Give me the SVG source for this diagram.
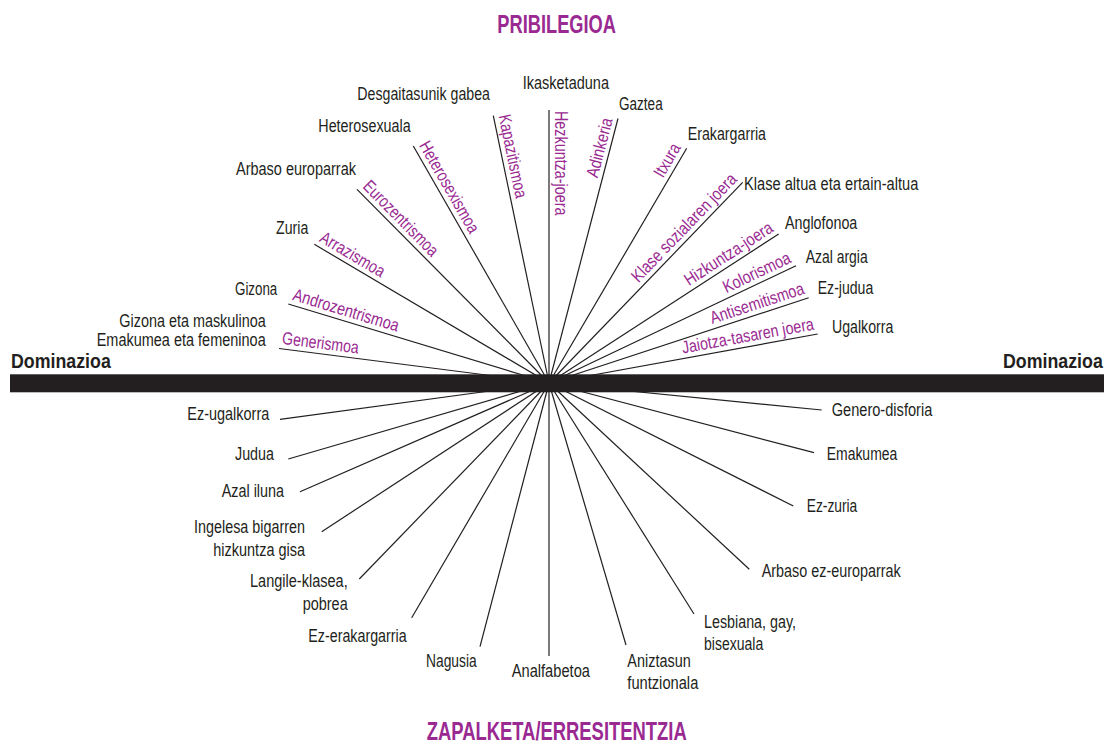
<svg xmlns="http://www.w3.org/2000/svg" width="1107" height="743" viewBox="0 0 1107 743">
<style>
.lbl{font-family:"Liberation Sans",Arial,sans-serif;font-size:17.5px;fill:#231f20}
.ism{font-family:"Liberation Sans",Arial,sans-serif;font-size:17.5px;fill:#9a2a92}
.dom{font-family:"Liberation Sans",Arial,sans-serif;font-size:17.8px;font-weight:bold;fill:#231f20}
.ttl{font-family:"Liberation Sans",Arial,sans-serif;font-size:25px;font-weight:bold;fill:#9a2a92}
.ray{stroke:#231f20;stroke-width:1.2;fill:none}
</style>
<rect width="1107" height="743" fill="#ffffff"/>
<g id="titles">
<text id="pribilegioa" class="ttl" x="497.3" y="33.3" textLength="118.7" lengthAdjust="spacingAndGlyphs">PRIBILEGIOA</text>
<text id="zapalketa" class="ttl" x="426.7" y="740" textLength="260" lengthAdjust="spacingAndGlyphs">ZAPALKETA/ERRESITENTZIA</text>
</g>
<g id="connectors">
<line class="ray" x1="549" y1="383" x2="279" y2="348.5"/>
<line class="ray" x1="549" y1="383" x2="288.3" y2="304"/>
<line class="ray" x1="549" y1="383" x2="314.3" y2="244.3"/>
<line class="ray" x1="549" y1="383" x2="357" y2="189.3"/>
<line class="ray" x1="549" y1="383" x2="413.3" y2="146"/>
<line class="ray" x1="549" y1="383" x2="493.3" y2="115.7"/>
<line class="ray" x1="549" y1="383" x2="549" y2="110"/>
<line class="ray" x1="549" y1="383" x2="618" y2="118.5"/>
<line class="ray" x1="549" y1="383" x2="686.7" y2="148.3"/>
<line class="ray" x1="549" y1="383" x2="742.7" y2="182.3"/>
<line class="ray" x1="549" y1="383" x2="778.7" y2="234"/>
<line class="ray" x1="549" y1="383" x2="796" y2="265.7"/>
<line class="ray" x1="549" y1="383" x2="808.7" y2="297.7"/>
<line class="ray" x1="549" y1="383" x2="817.7" y2="334"/>
<line class="ray" x1="549" y1="383" x2="280" y2="419.3"/>
<line class="ray" x1="549" y1="383" x2="288.3" y2="459"/>
<line class="ray" x1="549" y1="383" x2="300" y2="491.7"/>
<line class="ray" x1="549" y1="383" x2="321.7" y2="531.7"/>
<line class="ray" x1="549" y1="383" x2="359.3" y2="579"/>
<line class="ray" x1="549" y1="383" x2="411.7" y2="617.7"/>
<line class="ray" x1="549" y1="383" x2="480" y2="646.7"/>
<line class="ray" x1="549" y1="383" x2="549" y2="656"/>
<line class="ray" x1="549" y1="383" x2="626" y2="645"/>
<line class="ray" x1="549" y1="383" x2="694" y2="614"/>
<line class="ray" x1="549" y1="383" x2="749.3" y2="569.3"/>
<line class="ray" x1="549" y1="383" x2="793.3" y2="506"/>
<line class="ray" x1="549" y1="383" x2="814" y2="452.7"/>
<line class="ray" x1="549" y1="383" x2="821.7" y2="410"/>
</g>
<g id="axis">
<rect x="10" y="374.3" width="1094" height="18" fill="#231f20"/>
<text id="dominazioa-left" class="dom" transform="translate(11,368.3) scale(1,1.18)" x="0" y="0">Dominazioa</text>
<text id="dominazioa-right" class="dom" transform="translate(1003,367.7) scale(1,1.18)" x="0" y="0">Dominazioa</text>
</g>
<g id="isms">
<g id="generismoa" transform="translate(279,348.5) rotate(7.28)"><text class="ism" x="2" y="-5" textLength="77" lengthAdjust="spacingAndGlyphs">Generismoa</text></g>
<g id="androzentrismoa" transform="translate(288.3,304) rotate(16.86)"><text class="ism" x="2" y="-5" textLength="110" lengthAdjust="spacingAndGlyphs">Androzentrismoa</text></g>
<g id="arrazismoa" transform="translate(314.3,244.3) rotate(30.58)"><text class="ism" x="2" y="-5" textLength="72.3" lengthAdjust="spacingAndGlyphs">Arrazismoa</text></g>
<g id="eurozentrismoa" transform="translate(357,189.3) rotate(45.25)"><text class="ism" x="2" y="-5" textLength="99" lengthAdjust="spacingAndGlyphs">Eurozentrismoa</text></g>
<g id="heterosexismoa" transform="translate(413.3,146) rotate(60.2)"><text class="ism" x="2" y="-5" textLength="103" lengthAdjust="spacingAndGlyphs">Heterosexismoa</text></g>
<g id="kapazitismoa" transform="translate(493.3,115.7) rotate(78.23)"><text class="ism" x="1" y="-5" textLength="85" lengthAdjust="spacingAndGlyphs">Kapazitismoa</text></g>
<g id="hezkuntza-joera" transform="translate(549,110) rotate(90)"><text class="ism" x="1" y="-6" textLength="104.5" lengthAdjust="spacingAndGlyphs">Hezkuntza-joera</text></g>
<g id="adinkeria" transform="translate(549,383) rotate(-75.3)"><text class="ism" x="271" y="-5" text-anchor="end" textLength="61" lengthAdjust="spacingAndGlyphs">Adinkeria</text></g>
<g id="itxura" transform="translate(549,383) rotate(-59.6)"><text class="ism" x="270" y="-5" text-anchor="end" textLength="36" lengthAdjust="spacingAndGlyphs">Itxura</text></g>
<g id="klase-sozialaren-joera" transform="translate(549,383) rotate(-46)"><text class="ism" x="277" y="-5" text-anchor="end" textLength="143" lengthAdjust="spacingAndGlyphs">Klase sozialaren joera</text></g>
<g id="hizkuntza-joera" transform="translate(549,383) rotate(-32.97)"><text class="ism" x="272" y="-5" text-anchor="end" textLength="102" lengthAdjust="spacingAndGlyphs">Hizkuntza-joera</text></g>
<g id="kolorismoa" transform="translate(549,383) rotate(-25.4)"><text class="ism" x="271.5" y="-5" text-anchor="end" textLength="73" lengthAdjust="spacingAndGlyphs">Kolorismoa</text></g>
<g id="antisemitismoa" transform="translate(549,383) rotate(-18.18)"><text class="ism" x="271.5" y="-5" text-anchor="end" textLength="98" lengthAdjust="spacingAndGlyphs">Antisemitismoa</text></g>
<g id="jaiotza-tasaren-joera" transform="translate(549,383) rotate(-10.33)"><text class="ism" x="271" y="-5" text-anchor="end" textLength="134" lengthAdjust="spacingAndGlyphs">Jaiotza-tasaren joera</text></g>
</g>
<g id="privileged">
<g id="desgaitasunik-gabea"><text class="lbl" x="357.3" y="99.5" textLength="132.7" lengthAdjust="spacingAndGlyphs">Desgaitasunik gabea</text></g>
<g id="ikasketaduna"><text class="lbl" x="522.7" y="89" textLength="86.3" lengthAdjust="spacingAndGlyphs">Ikasketaduna</text></g>
<g id="heterosexuala"><text class="lbl" x="318.3" y="131.5" textLength="92.4" lengthAdjust="spacingAndGlyphs">Heterosexuala</text></g>
<g id="arbaso-europarrak"><text class="lbl" x="236" y="175" textLength="120" lengthAdjust="spacingAndGlyphs">Arbaso europarrak</text></g>
<g id="zuria"><text class="lbl" x="276" y="234" textLength="32.3" lengthAdjust="spacingAndGlyphs">Zuria</text></g>
<g id="gizona"><text class="lbl" x="235" y="295" textLength="42.3" lengthAdjust="spacingAndGlyphs">Gizona</text></g>
<g id="gizona-eta-maskulinoa"><text class="lbl" x="119.3" y="327.3" textLength="146.4" lengthAdjust="spacingAndGlyphs">Gizona eta maskulinoa</text><text class="lbl" x="96.7" y="346" textLength="169" lengthAdjust="spacingAndGlyphs">Emakumea eta femeninoa</text></g>
<g id="gaztea"><text class="lbl" x="619" y="109.5" textLength="43.7" lengthAdjust="spacingAndGlyphs">Gaztea</text></g>
<g id="erakargarria"><text class="lbl" x="687.7" y="140" textLength="78.3" lengthAdjust="spacingAndGlyphs">Erakargarria</text></g>
<g id="klase-altua"><text class="lbl" x="744" y="190" textLength="174.3" lengthAdjust="spacingAndGlyphs">Klase altua eta ertain-altua</text></g>
<g id="anglofonoa"><text class="lbl" x="785" y="229.3" textLength="72.3" lengthAdjust="spacingAndGlyphs">Anglofonoa</text></g>
<g id="azal-argia"><text class="lbl" x="805.7" y="263.3" textLength="62" lengthAdjust="spacingAndGlyphs">Azal argia</text></g>
<g id="ez-judua"><text class="lbl" x="817.7" y="294.3" textLength="55.6" lengthAdjust="spacingAndGlyphs">Ez-judua</text></g>
<g id="ugalkorra"><text class="lbl" x="832" y="333.3" textLength="61.3" lengthAdjust="spacingAndGlyphs">Ugalkorra</text></g>
</g>
<g id="oppressed">
<g id="ez-ugalkorra"><text class="lbl" x="187.3" y="420" textLength="82" lengthAdjust="spacingAndGlyphs">Ez-ugalkorra</text></g>
<g id="judua"><text class="lbl" x="235" y="460" textLength="39" lengthAdjust="spacingAndGlyphs">Judua</text></g>
<g id="azal-iluna"><text class="lbl" x="221.7" y="497.3" textLength="62.3" lengthAdjust="spacingAndGlyphs">Azal iluna</text></g>
<g id="ingelesa"><text class="lbl" x="194" y="533.3" textLength="111" lengthAdjust="spacingAndGlyphs">Ingelesa bigarren</text><text class="lbl" x="213.3" y="556" textLength="91.7" lengthAdjust="spacingAndGlyphs">hizkuntza gisa</text></g>
<g id="langile-klasea"><text class="lbl" x="250" y="587.3" textLength="97.7" lengthAdjust="spacingAndGlyphs">Langile-klasea,</text><text class="lbl" x="302.7" y="610" textLength="45" lengthAdjust="spacingAndGlyphs">pobrea</text></g>
<g id="ez-erakargarria"><text class="lbl" x="308.3" y="641.7" textLength="98.4" lengthAdjust="spacingAndGlyphs">Ez-erakargarria</text></g>
<g id="nagusia"><text class="lbl" x="426" y="666.7" textLength="50.7" lengthAdjust="spacingAndGlyphs">Nagusia</text></g>
<g id="analfabetoa"><text class="lbl" x="511.7" y="676.7" textLength="78.3" lengthAdjust="spacingAndGlyphs">Analfabetoa</text></g>
<g id="aniztasun-funtzionala"><text class="lbl" x="627.3" y="667.3" textLength="63.4" lengthAdjust="spacingAndGlyphs">Aniztasun</text><text class="lbl" x="627.3" y="689.3" textLength="71" lengthAdjust="spacingAndGlyphs">funtzionala</text></g>
<g id="lesbiana-gay-bisexuala"><text class="lbl" x="704" y="628.3" textLength="92" lengthAdjust="spacingAndGlyphs">Lesbiana, gay,</text><text class="lbl" x="704" y="650" textLength="59.3" lengthAdjust="spacingAndGlyphs">bisexuala</text></g>
<g id="arbaso-ez-europarrak"><text class="lbl" x="761.7" y="577.3" textLength="139" lengthAdjust="spacingAndGlyphs">Arbaso ez-europarrak</text></g>
<g id="ez-zuria"><text class="lbl" x="806.7" y="511.7" textLength="50.6" lengthAdjust="spacingAndGlyphs">Ez-zuria</text></g>
<g id="emakumea"><text class="lbl" x="826.7" y="460" textLength="70.6" lengthAdjust="spacingAndGlyphs">Emakumea</text></g>
<g id="genero-disforia"><text class="lbl" x="831.7" y="416" textLength="100.6" lengthAdjust="spacingAndGlyphs">Genero-disforia</text></g>
</g>
</svg>
